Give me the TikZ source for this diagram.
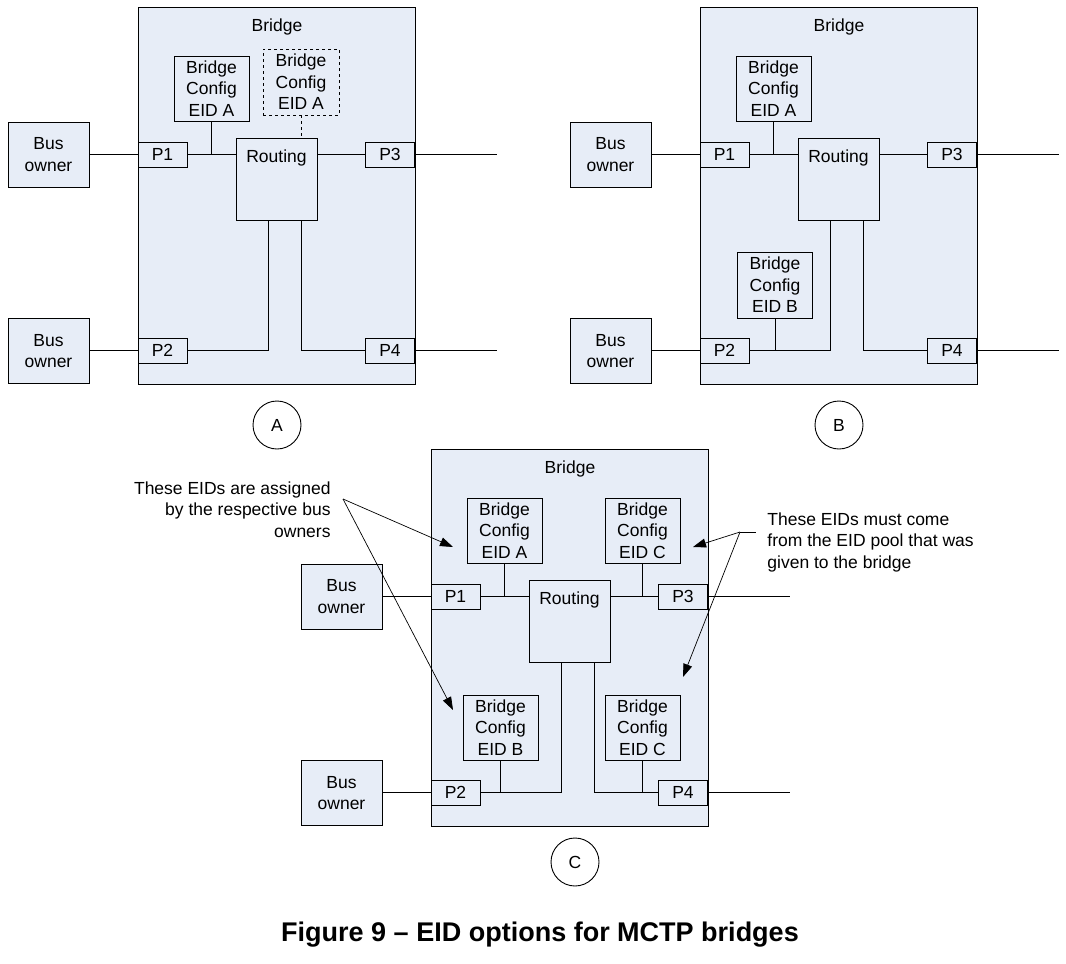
\documentclass[tikz,border=0pt]{standalone}
\usepackage{fontspec}
\setmainfont{Liberation Sans}
\usetikzlibrary{arrows.meta}

\definecolor{boxfill}{RGB}{231,237,247}

\tikzset{
  box/.style={draw, fill=boxfill, inner sep=0pt, align=center},
  bridgebox/.style={box, minimum width=277pt, minimum height=377pt},
  routebox/.style={box, minimum width=81pt, minimum height=82pt},
  port/.style={box, minimum width=49pt, minimum height=25pt},
  owner/.style={box, minimum width=81pt, minimum height=65pt},
  cfg/.style={box, minimum width=75pt, minimum height=65pt},
  lbl/.style={inner sep=0pt},
  tag/.style={draw, circle, minimum size=48pt, inner sep=0pt},
  pointer/.style={-{Triangle[length=13pt,width=9pt]}, line width=0.7pt},
}

\begin{document}
\begin{tikzpicture}[x=1pt, y=-1pt, line width=0.9pt,
    font=\fontsize{17.5}{21.6}\selectfont]
    \useasboundingbox (0,0) rectangle (1066,964);

    % ---------------- Panel A ----------------
    \node[bridgebox] (a-bridge) at (276.5,195.5) {};
    \node[lbl] (a-title) at (277,27) {Bridge};
    \node[cfg] (a-cfg) at (211.5,88.5) {Bridge\\Config\\EID A};
    \node[cfg, dashed, minimum width=76pt, minimum height=66pt] (a-cfgx) at (301,82) {Bridge\\Config\\EID A};
    \node[routebox] (a-rt) at (276.5,179) {};
    \node[lbl] (a-rtlbl) at (276.5,158) {Routing};
    \node[port] (a-p1) at (162.5,154.5) {P1};
    \node[port] (a-p2) at (162.5,350.5) {P2};
    \node[port] (a-p3) at (390,154.5) {P3};
    \node[port] (a-p4) at (390,350.5) {P4};
    \node[owner] (a-bo1) at (48.5,154.5) {Bus\\owner};
    \node[owner] (a-bo2) at (48.5,351) {Bus\\owner};
    \coordinate (a-out3) at (497,154.5);
    \coordinate (a-out4) at (497,350.5);

    % links
    \draw (a-bo1.east) -- (a-p1.west);
    \draw (a-bo2.east |- a-p2.west) -- (a-p2.west);
    \draw (a-p1.east) -- (a-p1.east -| a-rt.west);
    \draw (a-cfg.south) -- (a-cfg.south |- a-p1.east);
    \draw[dashed] (a-cfgx.south) -- (a-cfgx.south |- a-rt.north);
    \draw (a-rt.east |- a-p3.west) -- (a-p3.west);
    \draw (a-p3.east) -- (a-out3);
    \draw ([xshift=-8.5pt]a-rt.south) |- (a-p2.east);
    \draw ([xshift=24.5pt]a-rt.south) |- (a-p4.west);
    \draw (a-p4.east) -- (a-out4);

    \node[tag] (a-tag) at (277,425) {A};

    % ---------------- Panel B ----------------
    \begin{scope}[shift={(562,0)}]
    \node[bridgebox] (b-bridge) at (276.5,195.5) {};
    \node[lbl] (b-title) at (277,27) {Bridge};
    \node[cfg] (b-cfga) at (211.5,88.5) {Bridge\\Config\\EID A};
    \node[cfg, minimum height=66pt] (b-cfgb) at (213,285) {Bridge\\Config\\EID B};
    \node[routebox] (b-rt) at (276.5,179) {};
    \node[lbl] (b-rtlbl) at (276.5,158) {Routing};
    \node[port] (b-p1) at (162.5,154.5) {P1};
    \node[port] (b-p2) at (162.5,350.5) {P2};
    \node[port] (b-p3) at (390,154.5) {P3};
    \node[port] (b-p4) at (390,350.5) {P4};
    \node[owner] (b-bo1) at (48.5,154.5) {Bus\\owner};
    \node[owner] (b-bo2) at (48.5,351) {Bus\\owner};
    \coordinate (b-out3) at (497,154.5);
    \coordinate (b-out4) at (497,350.5);

    % links
    \draw (b-bo1.east) -- (b-p1.west);
    \draw (b-bo2.east |- b-p2.west) -- (b-p2.west);
    \draw (b-p1.east) -- (b-p1.east -| b-rt.west);
    \draw (b-cfga.south) -- (b-cfga.south |- b-p1.east);
    \draw (b-rt.east |- b-p3.west) -- (b-p3.west);
    \draw (b-p3.east) -- (b-out3);
    \draw ([xshift=-8.5pt]b-rt.south) |- (b-p2.east);
    \draw (b-cfgb.south) -- (b-cfgb.south |- b-p2.east);
    \draw ([xshift=24.5pt]b-rt.south) |- (b-p4.west);
    \draw (b-p4.east) -- (b-out4);
    \end{scope}

    \node[tag] (b-tag) at (839,425) {B};

    % ---------------- Panel C ----------------
    \begin{scope}[shift={(293,442)}]
    \node[bridgebox] (c-bridge) at (276.5,195.5) {};
    \node[lbl] (c-title) at (277,27) {Bridge};
    \node[cfg] (c-cfga) at (211.5,88.5) {Bridge\\Config\\EID A};
    \node[cfg] (c-cfgc) at (349.5,88.5) {Bridge\\Config\\EID C};
    \node[cfg] (c-cfgb) at (207.5,285.5) {Bridge\\Config\\EID B};
    \node[cfg] (c-cfgd) at (349.5,285.5) {Bridge\\Config\\EID C};
    \node[routebox] (c-rt) at (276.5,179) {};
    \node[lbl] (c-rtlbl) at (276.5,158) {Routing};
    \node[port] (c-p1) at (162.5,154.5) {P1};
    \node[port] (c-p2) at (162.5,350.5) {P2};
    \node[port] (c-p3) at (390,154.5) {P3};
    \node[port] (c-p4) at (390,350.5) {P4};
    \node[owner] (c-bo1) at (48.5,154.5) {Bus\\owner};
    \node[owner] (c-bo2) at (48.5,351) {Bus\\owner};
    \coordinate (c-out3) at (497,154.5);
    \coordinate (c-out4) at (497,350.5);

    % links
    \draw (c-bo1.east) -- (c-p1.west);
    \draw (c-bo2.east |- c-p2.west) -- (c-p2.west);
    \draw (c-p1.east) -- (c-p1.east -| c-rt.west);
    \draw (c-cfga.south) -- (c-cfga.south |- c-p1.east);
    \draw (c-rt.east |- c-p3.west) -- (c-p3.west);
    \draw (c-cfgc.south) -- (c-cfgc.south |- c-p3.west);
    \draw (c-p3.east) -- (c-out3);
    \draw ([xshift=-8.5pt]c-rt.south) |- (c-p2.east);
    \draw (c-cfgb.south) -- (c-cfgb.south |- c-p2.east);
    \draw ([xshift=24.5pt]c-rt.south) |- (c-p4.west);
    \draw (c-cfgd.south) -- (c-cfgd.south |- c-p4.west);
    \draw (c-p4.east) -- (c-out4);
    \end{scope}

    \node[tag] (c-tag) at (575,862) {C};

    % notes with pointers
    \node[lbl, align=right, anchor=north east] (note-bus) at (331,481)
        {These EIDs are assigned\\by the respective bus\\owners};
    \coordinate (note-bus-end) at (343,499);
    \draw[pointer] (note-bus-end) -- (453,547);
    \draw[pointer] (note-bus-end) -- (453,710);

    \node[lbl, align=left, anchor=north west] (note-pool) at (767,512)
        {These EIDs must come\\from the EID pool that was\\given to the bridge};
    \coordinate (note-pool-end) at (740,532);
    \draw (note-pool-end) -- (756,532);
    \draw[pointer] (note-pool-end) -- (693,547);
    \draw[pointer] (note-pool-end) -- (683,677);

    % caption
    \node[lbl, font=\bfseries\fontsize{27}{32}\selectfont] (caption) at (540,935)
        {Figure 9 – EID options for MCTP bridges};
\end{tikzpicture}
\end{document}
